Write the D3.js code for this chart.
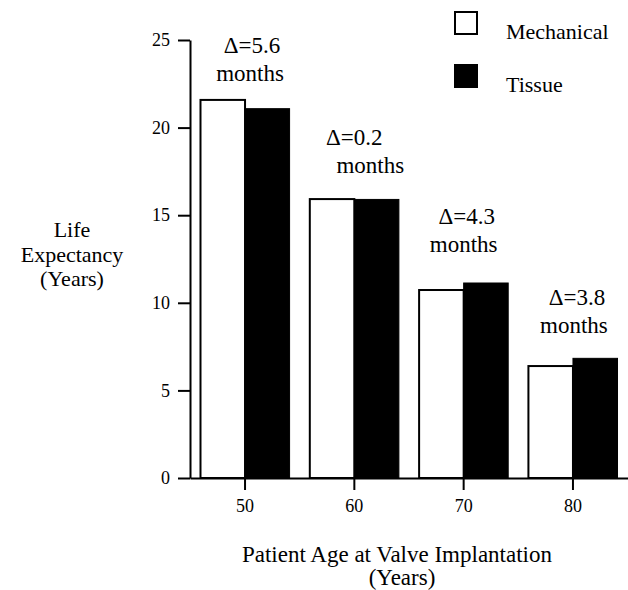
<!DOCTYPE html>
<html>
<head>
<meta charset="utf-8">
<script src="https://cdn.jsdelivr.net/npm/d3@7"></script>
<style>
  body { margin: 0; background: #fff; }
  svg text, svg tspan { font-family: "Liberation Serif", "Times New Roman", serif !important; fill: #000; }
</style>
</head>
<body>
<div class="chart"></div>
<script>
// data
const ages = ["50", "60", "70", "80"];
const mechanical = [21.58, 15.92, 10.73, 6.39];
const tissue = [21.08, 15.9, 11.13, 6.83];
const deltas = ["\u0394=5.6", "\u0394=0.2", "\u0394=4.3", "\u0394=3.8"];
const series = ["Mechanical", "Tissue"];
const yTicks = [0, 5, 10, 15, 20, 25];

// label nudges (pixels) so the annotations sit like the original
const deltaShift = [7, 0, 3, 4];
const monthsShift = [5, 16, 0, 1];
const labelGap = [19, 26, 31, 25];

const width = 628, height = 590;
const serif = '"Liberation Serif", "Times New Roman", serif';

const svg = d3.select(".chart").append("svg")
  .attr("width", width)
  .attr("height", height)
  .attr("font-family", serif);

const x = d3.scaleBand()
  .domain(ages)
  .range([190, 628])
  .paddingInner(0.185)
  .paddingOuter(0.096);

const y = d3.scaleLinear()
  .domain([0, 25])
  .range([478, 40]);

const half = x.bandwidth() / 2;

// bars
const groups = svg.append("g")
  .selectAll("g")
  .data(ages)
  .enter()
  .append("g")
  .attr("transform", d => `translate(${x(d)},0)`);

groups.append("rect")
  .attr("x", 0)
  .attr("y", (d, i) => y(mechanical[i]))
  .attr("width", half)
  .attr("height", (d, i) => y(0) - y(mechanical[i]))
  .attr("fill", "#fff")
  .attr("stroke", "#000")
  .attr("stroke-width", 2);

groups.append("rect")
  .attr("x", half)
  .attr("y", (d, i) => y(tissue[i]))
  .attr("width", half)
  .attr("height", (d, i) => y(0) - y(tissue[i]))
  .attr("fill", "#000")
  .attr("stroke", "#000")
  .attr("stroke-width", 1);

// axes
const yAxis = svg.append("g")
  .attr("transform", "translate(190,0)")
  .call(d3.axisLeft(y).tickValues(yTicks).tickSize(12).tickSizeOuter(0).tickPadding(8));

const xAxis = svg.append("g")
  .attr("transform", "translate(0,478)")
  .call(d3.axisBottom(x).tickSize(12).tickSizeOuter(0).tickPadding(9));

[yAxis, xAxis].forEach(a => {
  a.attr("font-family", serif).attr("font-size", 18);
  a.selectAll("path, line").attr("stroke", "#000").attr("stroke-width", 2);
  a.selectAll("text").attr("fill", "#000");
});

// delta annotations
const notes = svg.append("g")
  .attr("font-family", serif)
  .attr("font-size", 23)
  .selectAll("g")
  .data(ages)
  .enter()
  .append("g");

notes.append("text")
  .attr("x", (d, i) => x(d) + half + deltaShift[i])
  .attr("y", (d, i) => y(Math.max(mechanical[i], tissue[i])) - labelGap[i] - 28)
  .attr("text-anchor", "middle")
  .text((d, i) => deltas[i]);

notes.append("text")
  .attr("x", (d, i) => x(d) + half + monthsShift[i])
  .attr("y", (d, i) => y(Math.max(mechanical[i], tissue[i])) - labelGap[i])
  .attr("text-anchor", "middle")
  .text("months");

// legend
const legend = svg.append("g")
  .attr("font-size", 22)
  .selectAll("g")
  .data(series)
  .enter()
  .append("g")
  .attr("transform", (d, i) => `translate(455,${12 + i * 53})`);

legend.append("rect")
  .attr("width", 22)
  .attr("height", 22)
  .attr("fill", (d, i) => i === 0 ? "#fff" : "#000")
  .attr("stroke", "#000")
  .attr("stroke-width", 2);

legend.append("text")
  .attr("x", 51)
  .attr("y", 27)
  .text(d => d);

// axis titles
svg.append("text")
  .attr("text-anchor", "middle")
  .attr("font-size", 22)
  .selectAll("tspan")
  .data(["Life", "Expectancy", "(Years)"])
  .enter()
  .append("tspan")
  .attr("x", 72)
  .attr("y", (d, i) => 237 + i * 24.5)
  .text(d => d);

svg.append("text")
  .attr("text-anchor", "middle")
  .attr("font-size", 23)
  .selectAll("tspan")
  .data(["Patient Age at Valve Implantation", "(Years)"])
  .enter()
  .append("tspan")
  .attr("x", (d, i) => i === 0 ? 397 : 402)
  .attr("y", (d, i) => 562 + i * 23)
  .text(d => d);
</script>
</body>
</html>
